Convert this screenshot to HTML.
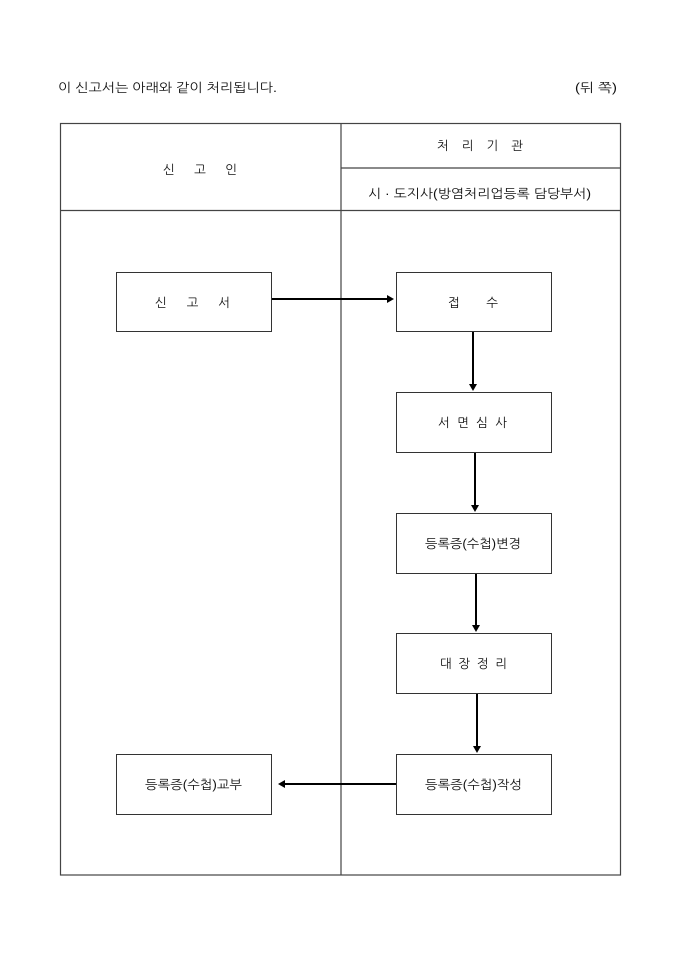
<!DOCTYPE html>
<html><head><meta charset="utf-8"><style>
html,body{margin:0;padding:0;background:#fff;}
svg{display:block;}
text{font-family:"Liberation Sans","NanumGothic","Noto Sans CJK KR",sans-serif;font-size:12.5px;fill:#111;}
</style></head><body>
<svg width="680" height="962" viewBox="0 0 680 962" xmlns="http://www.w3.org/2000/svg">
<rect width="680" height="962" fill="#fff"/>
<text x="58" y="92" textLength="219" lengthAdjust="spacingAndGlyphs">이 신고서는 아래와 같이 처리됩니다.</text>
<text x="575" y="92" textLength="42" lengthAdjust="spacingAndGlyphs">(뒤 쪽)</text>
<!-- table -->
<g stroke="#444" stroke-width="1.2" fill="none">
<rect x="60.5" y="123.5" width="560" height="751.5"/>
<line x1="341" y1="123" x2="341" y2="875"/>
<line x1="341" y1="168" x2="621" y2="168"/>
<line x1="60" y1="210.5" x2="621" y2="210.5"/>
</g>
<text x="163" y="174" textLength="74" lengthAdjust="spacing">신 고 인</text>
<text x="437" y="150" textLength="86" lengthAdjust="spacing">처 리 기 관</text>
<text x="368" y="198" textLength="223" lengthAdjust="spacingAndGlyphs">시 · 도지사(방염처리업등록 담당부서)</text>
<!-- boxes -->
<g stroke="#333" stroke-width="1" fill="#fff">
<rect x="116.5" y="272.5" width="155" height="59"/>
<rect x="396.5" y="272.5" width="155" height="59"/>
<rect x="396.5" y="392.5" width="155" height="60"/>
<rect x="396.5" y="513.5" width="155" height="60"/>
<rect x="396.5" y="633.5" width="155" height="60"/>
<rect x="396.5" y="754.5" width="155" height="60"/>
<rect x="116.5" y="754.5" width="155" height="60"/>
</g>
<text x="155" y="307" textLength="75" lengthAdjust="spacing">신 고 서</text>
<text x="448" y="307" textLength="50" lengthAdjust="spacing">접 수</text>
<text x="438" y="427" textLength="69" lengthAdjust="spacing">서 면 심 사</text>
<text x="425" y="548" textLength="96" lengthAdjust="spacingAndGlyphs">등록증(수첩)변경</text>
<text x="440" y="668" textLength="67" lengthAdjust="spacing">대 장 정 리</text>
<text x="425" y="789" textLength="97" lengthAdjust="spacingAndGlyphs">등록증(수첩)작성</text>
<text x="145" y="789" textLength="97" lengthAdjust="spacingAndGlyphs">등록증(수첩)교부</text>
<!-- arrows -->
<g stroke="#000" stroke-width="2" fill="none">
<line x1="272" y1="299" x2="388" y2="299"/>
<line x1="473" y1="332" x2="473" y2="385"/>
<line x1="475" y1="453" x2="475" y2="506"/>
<line x1="476" y1="574" x2="476" y2="626"/>
<line x1="477" y1="694" x2="477" y2="747"/>
<line x1="396" y1="784" x2="284" y2="784"/>
</g>
<g fill="#000">
<polygon points="394,299 387,295 387,303"/>
<polygon points="473,391 469,384 477,384"/>
<polygon points="475,512 471,505 479,505"/>
<polygon points="476,632 472,625 480,625"/>
<polygon points="477,753 473,746 481,746"/>
<polygon points="278,784 285,780 285,788"/>
</g>
</svg>
</body></html>
